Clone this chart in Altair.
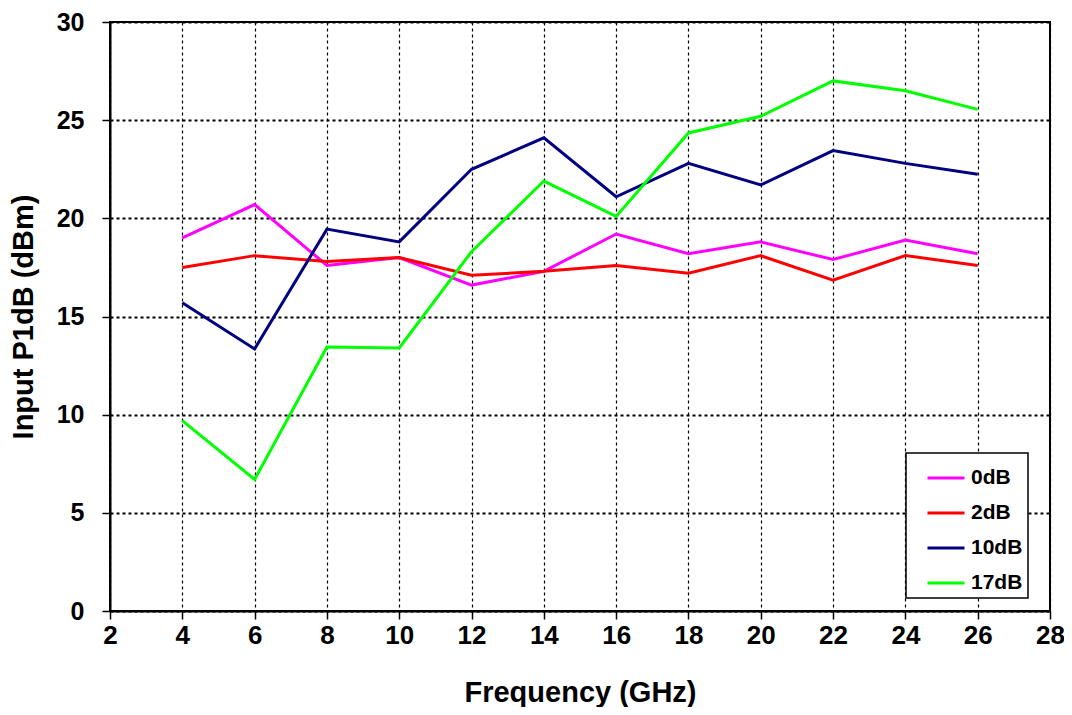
import altair as alt
import pandas as pd

freq = [4, 6, 8, 10, 12, 14, 16, 18, 20, 22, 24, 26]
s_0db = [19.0, 20.7, 17.6, 18.0, 16.6, 17.3, 19.2, 18.2, 18.8, 17.9, 18.9, 18.2]
s_2db = [17.5, 18.1, 17.8, 18.0, 17.1, 17.3, 17.6, 17.2, 18.1, 16.85, 18.1, 17.6]
s_10db = [15.7, 13.35, 19.45, 18.8, 22.5, 24.1, 21.1, 22.8, 21.7, 23.45, 22.8, 22.25]
s_17db = [9.7, 6.7, 13.45, 13.4, 18.3, 21.9, 20.1, 24.35, 25.2, 27.0, 26.5, 25.55]

series_names = ["0dB", "2dB", "10dB", "17dB"]
series_colors = ["#FF00FF", "#FF0000", "#000080", "#00FF00"]

rows = []
for name, vals in zip(series_names, [s_0db, s_2db, s_10db, s_17db]):
    for f, v in zip(freq, vals):
        rows.append({"Frequency": f, "P1dB": v, "Series": name})
df = pd.DataFrame(rows)

FONT = "Liberation Sans"

chart = alt.Chart(df).mark_line(strokeWidth=3).encode(
    x=alt.X("Frequency:Q",
            scale=alt.Scale(domain=[2, 28], nice=False, zero=False),
            axis=alt.Axis(values=list(range(2, 29, 2)), title="Frequency (GHz)",
                          grid=True, gridColor="black", gridDash=[3, 3], gridWidth=1.2,
                          tickSize=8, tickColor="black", tickWidth=1.5,
                          domainColor="black", domainWidth=2, labelFlush=False,
                          labelFont=FONT, labelFontSize=26, labelFontWeight="bold",
                          labelColor="black", labelPadding=3,
                          titleFont=FONT, titleFontSize=29, titleFontWeight="bold",
                          titleColor="black", titlePadding=30)),
    y=alt.Y("P1dB:Q",
            scale=alt.Scale(domain=[0, 30], nice=False),
            axis=alt.Axis(values=list(range(0, 31, 5)), title="Input P1dB (dBm)",
                          grid=True, gridColor="black", gridDash=[3, 3], gridWidth=2,
                          tickSize=8, tickColor="black", tickWidth=1.5,
                          domainColor="black", domainWidth=2, labelFlush=False,
                          labelFont=FONT, labelFontSize=25, labelFontWeight="bold",
                          labelColor="black", labelPadding=18,
                          titleFont=FONT, titleFontSize=29, titleFontWeight="bold",
                          titleColor="black", titlePadding=18)),
    color=alt.Color("Series:N",
                    scale=alt.Scale(domain=series_names, range=series_colors),
                    sort=series_names,
                    legend=alt.Legend(title=None, orient="none", legendX=796, legendY=431,
                                      symbolType="stroke", symbolSize=1369,
                                      symbolStrokeWidth=3, symbolOffset=15,
                                      labelOffset=5,
                                      labelExpr="datum.label + '\u00a0\u00a0\u00a0\u00a0\u00a0'",
                                      labelFont=FONT, labelFontSize=21,
                                      labelFontWeight="bold", labelColor="black",
                                      rowPadding=5, padding=5,
                                      strokeColor="black", fillColor="white",
                                      labelLimit=200)),
).properties(
    width=940, height=589,
    autosize=alt.AutoSizeParams(type="none"),
    padding={"left": 102, "top": 14, "right": 14, "bottom": 96},
).configure_view(
    stroke="black", strokeWidth=2
).configure_legend(
    strokeWidth=1.5
)

chart.save("out.html", embed_options={"renderer": "svg", "actions": False})
